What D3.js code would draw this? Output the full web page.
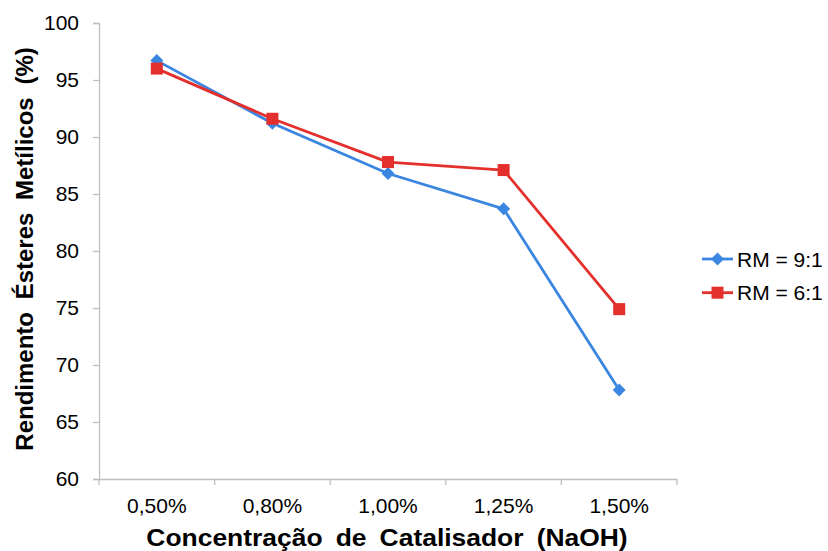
<!DOCTYPE html>
<html>
<head>
<meta charset="utf-8">
<script src="https://cdn.jsdelivr.net/npm/d3@7"></script>
<style>
  html, body { margin: 0; padding: 0; background: #fff; }
  svg { display: block; font-family: "Liberation Sans", Arial, sans-serif; }
</style>
</head>
<body>
<svg id="chart" width="828" height="551"></svg>
<script>
// Catalyst concentrations (x categories)
const categories = ["0,50%", "0,80%", "1,00%", "1,25%", "1,50%"];
// Methyl ester yield (%) per molar ratio
const rm91 = [96.7, 91.2, 86.8, 83.7, 67.8];
const rm61 = [96.0, 91.6, 87.8, 87.1, 74.9];
const yTicks = [60, 65, 70, 75, 80, 85, 90, 95, 100];
const seriesNames = ["RM = 9:1", "RM = 6:1"];

const series = [
  { name: seriesNames[0], values: rm91, color: "#3b86e0", marker: "diamond" },
  { name: seriesNames[1], values: rm61, color: "#e3302d", marker: "square" }
];

const svg = d3.select("#chart");
const plot = { left: 99, right: 677, top: 23, bottom: 479 };

const x = d3.scaleBand().domain(categories).range([plot.left, plot.right]);
const y = d3.scaleLinear().domain([60, 100]).range([plot.bottom, plot.top]);

const axisColor = "#bfbfbf";
const fontFamily = "'Liberation Sans', Arial, sans-serif";

// Y axis
const yAxis = svg.append("g")
  .attr("transform", `translate(${plot.left},0)`)
  .call(d3.axisLeft(y).tickValues(yTicks).tickSize(6).tickPadding(14));
yAxis.select(".domain").attr("stroke", axisColor).attr("stroke-width", 1.3);
yAxis.selectAll(".tick line").attr("stroke", axisColor).attr("stroke-width", 1.3);
yAxis.selectAll(".tick text")
  .attr("fill", "#000").style("font-size", "21px").style("font-family", fontFamily);

// X axis with ticks at band edges
const xAxis = svg.append("g")
  .attr("transform", `translate(0,${plot.bottom})`)
  .call(d3.axisBottom(x).tickSize(0).tickPadding(19));
xAxis.select(".domain").attr("stroke", axisColor).attr("stroke-width", 1.3);
xAxis.selectAll(".tick text")
  .attr("fill", "#000").style("font-size", "21px").style("font-family", fontFamily);
const edges = categories.map(c => x(c)).concat([x(categories[categories.length - 1]) + x.bandwidth()]);
xAxis.selectAll("line.edge").data(edges).enter().append("line")
  .attr("class", "edge")
  .attr("x1", d => d).attr("x2", d => d)
  .attr("y1", 0).attr("y2", 6)
  .attr("stroke", axisColor).attr("stroke-width", 1.3);

// Axis titles
svg.append("text")
  .attr("transform", `translate(${(plot.left + plot.right) / 2 - 1},546) scale(1.15,1)`)
  .attr("text-anchor", "middle")
  .style("font-size", "23px").style("font-weight", "bold")
  .style("word-spacing", "5px")
  .text("Concentração de Catalisador (NaOH)");

svg.append("text")
  .attr("transform", "translate(33,249) rotate(-90)")
  .attr("text-anchor", "middle")
  .style("font-size", "24px").style("font-weight", "bold")
  .style("word-spacing", "6px")
  .text("Rendimento Ésteres Metílicos (%)");

const cx = c => x(c) + x.bandwidth() / 2;
const line = d3.line().x((d, i) => cx(categories[i])).y(d => y(d));

function drawMarker(g, type, color) {
  if (type === "diamond") {
    g.append("path").attr("d", "M0,-6.5L6.5,0L0,6.5L-6.5,0Z").attr("fill", color);
  } else {
    g.append("rect").attr("x", -6).attr("y", -6).attr("width", 12).attr("height", 12).attr("fill", color);
  }
}

series.forEach(s => {
  svg.append("path")
    .datum(s.values)
    .attr("d", line)
    .attr("fill", "none")
    .attr("stroke", s.color)
    .attr("stroke-width", 2.8)
    .attr("stroke-linejoin", "round");
});
series.forEach(s => {
  s.values.forEach((v, i) => {
    const g = svg.append("g").attr("transform", `translate(${cx(categories[i])},${y(v)})`);
    drawMarker(g, s.marker, s.color);
  });
});

// Legend
const legend = svg.append("g").attr("transform", "translate(702,259)");
series.forEach((s, i) => {
  const row = legend.append("g").attr("transform", `translate(0,${i * 33.7})`);
  row.append("line").attr("x1", 0).attr("x2", 31).attr("y1", 0).attr("y2", 0)
    .attr("stroke", s.color).attr("stroke-width", 2.8);
  const m = row.append("g").attr("transform", "translate(15.5,0)");
  drawMarker(m, s.marker, s.color);
  row.append("text").attr("x", 35).attr("y", 7.5)
    .style("font-size", "21px").attr("fill", "#000")
    .text(s.name);
});
</script>
</body>
</html>
